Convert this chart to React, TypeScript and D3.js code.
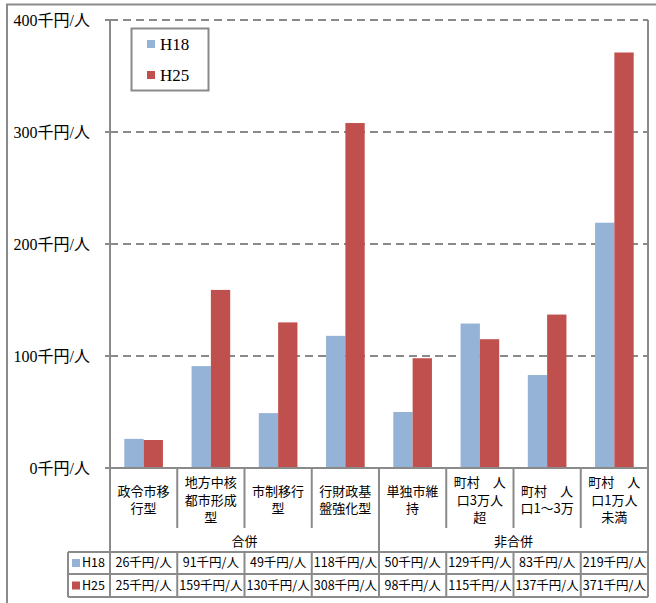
import React from "react";
import * as d3 from "d3";

const categories: string[][] = [
  ["政令市移", "行型"],
  ["地方中核", "都市形成", "型"],
  ["市制移行", "型"],
  ["行財政基", "盤強化型"],
  ["単独市維", "持"],
  ["町村　人", "口3万人", "超"],
  ["町村　人", "口1～3万"],
  ["町村　人", "口1万人", "未満"],
];
const groups = [
  { name: "合併", from: 0, to: 3 },
  { name: "非合併", from: 4, to: 7 },
];
const seriesNames = ["H18", "H25"];
const h18 = [26, 91, 49, 118, 50, 129, 83, 219];
const h25 = [25, 159, 130, 308, 98, 115, 137, 371];
const yTicks = [0, 100, 200, 300, 400];
const unit = "千円/人";

const colors = ["#95B3D7", "#C0504D"];
const gray = "#8a8a8a";

export default function App() {
  const left = 110, right = 648, top = 20, bottom = 468;
  const labelBottom = 528, groupBottom = 552, row1 = 574, row2 = 597, keyLeft = 68;
  const x = d3.scaleBand<number>().domain(d3.range(categories.length)).range([left, right]).padding(0);
  const xi = d3.scaleBand<number>().domain([0, 1]).range([0, x.bandwidth()]).paddingInner(0).paddingOuter(0.74);
  const y = d3.scaleLinear().domain([0, 400]).range([bottom, top]);
  const series = [h18, h25];
  const cjk = "'Noto Sans CJK JP', 'Noto Sans', sans-serif";
  const serif = "'Liberation Serif', 'Noto Sans CJK JP', serif";
  const bounds = d3.range(categories.length + 1).map((i) => (i < categories.length ? (x(i) as number) : right));

  return (
    <svg width={656} height={603} style={{ position: "absolute", left: 0, top: 0, background: "#fff" }}>
      <rect x={7} y={4.5} width={700} height={700} fill="#fff" stroke={gray} strokeWidth={2} />
      {/* gridlines */}
      {yTicks.map((t) => (
        <g key={t}>
          {t > 0 && (
            <line x1={left} x2={right} y1={y(t)} y2={y(t)} stroke={gray} strokeWidth={2} strokeDasharray="8,5" />
          )}
          <line x1={left - 5} x2={left} y1={y(t)} y2={y(t)} stroke={gray} strokeWidth={2} />
          <text x={90} y={y(t)} dy="0.35em" textAnchor="end" fontFamily={serif} fontSize={16} fill="#000">
            {t + unit}
          </text>
        </g>
      ))}
      {/* bars */}
      {series.map((s, si) =>
        s.map((v, i) => (
          <rect
            key={si + "-" + i}
            x={(x(i) as number) + (xi(si) as number)}
            y={y(v)}
            width={xi.bandwidth()}
            height={bottom - y(v)}
            fill={colors[si]}
          />
        ))
      )}
      {/* axes and frame */}
      <line x1={left} x2={right} y1={bottom} y2={bottom} stroke={gray} strokeWidth={2} />
      <line x1={left} x2={left} y1={top} y2={row2} stroke={gray} strokeWidth={2} />
      <line x1={right} x2={right} y1={top} y2={row2} stroke={gray} strokeWidth={2} />
      {bounds.slice(1, -1).map((b, i) => (
        <line key={i} x1={b} x2={b} y1={bottom} y2={i === 3 ? groupBottom : labelBottom} stroke={gray} strokeWidth={2} />
      ))}
      {/* category labels */}
      {categories.map((lines, i) => {
        const cx = (x(i) as number) + x.bandwidth() / 2;
        const lh = 17.5;
        const start = 500 - ((lines.length - 1) * lh) / 2;
        return (
          <text key={i} textAnchor="middle" fontFamily={cjk} fontSize={13} fill="#000">
            {lines.map((l, j) => (
              <tspan key={j} x={cx} y={start + j * lh} dy="0.35em">
                {l}
              </tspan>
            ))}
          </text>
        );
      })}
      {groups.map((g) => (
        <text
          key={g.name}
          x={((x(g.from) as number) + bounds[g.to + 1]) / 2}
          y={541}
          dy="0.35em"
          textAnchor="middle"
          fontFamily={cjk}
          fontSize={13}
          fill="#000"
        >
          {g.name}
        </text>
      ))}
      {/* data table */}
      {[groupBottom, row1, row2].map((yy, i) => (
        <line key={i} x1={keyLeft} x2={right} y1={yy} y2={yy} stroke={gray} strokeWidth={2} />
      ))}
      <line x1={keyLeft} x2={keyLeft} y1={groupBottom} y2={row2} stroke={gray} strokeWidth={2} />
      {bounds.slice(1, -1).map((b, i) => (
        <line key={"t" + i} x1={b} x2={b} y1={groupBottom} y2={row2} stroke={gray} strokeWidth={2} />
      ))}
      {series.map((s, si) => {
        const cy = si === 0 ? (groupBottom + row1) / 2 : (row1 + row2) / 2;
        return (
          <g key={"row" + si}>
            <rect x={72} y={cy - 4} width={8} height={8} fill={colors[si]} />
            <text x={82} y={cy} dy="0.35em" fontFamily={cjk} fontSize={12.5} fill="#000">
              {seriesNames[si]}
            </text>
            {s.map((v, i) => (
              <text
                key={i}
                x={(x(i) as number) + x.bandwidth() / 2}
                y={cy}
                dy="0.35em"
                textAnchor="middle"
                fontFamily={cjk}
                fontSize={12.5}
                fill="#000"
              >
                {v + unit}
              </text>
            ))}
          </g>
        );
      })}
      {/* legend */}
      <rect x={131.5} y={28.5} width={77} height={62} fill="#fff" stroke={gray} strokeWidth={2} />
      {seriesNames.map((n, i) => (
        <g key={n}>
          <rect x={147} y={40 + i * 31} width={8} height={8} fill={colors[i]} />
          <text x={160} y={44 + i * 31} dy="0.35em" fontFamily={serif} fontSize={17} fill="#000">
            {n}
          </text>
        </g>
      ))}
    </svg>
  );
}
